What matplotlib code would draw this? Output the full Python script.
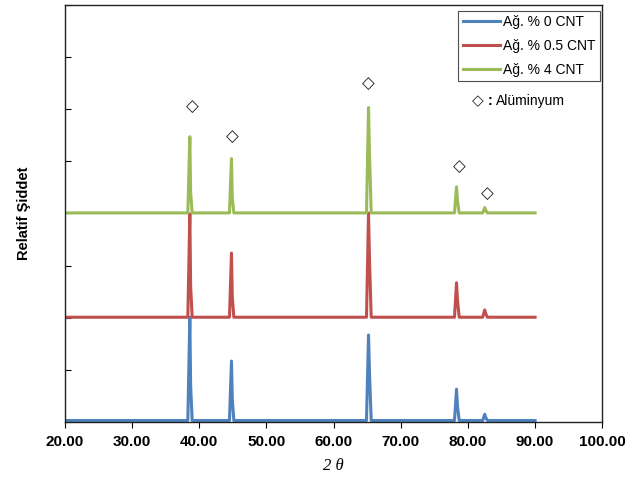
import matplotlib.pyplot as plt

plt.rcParams['font.family'] = ['Liberation Sans', 'DejaVu Sans']

# 2-theta points shared by the three patterns (peak base / top / shoulder / base)
two_theta = [20, 38.3, 38.6, 38.72, 38.95, 44.5, 44.8, 44.92, 45.15,
             64.9, 65.2, 65.35, 65.6, 78.0, 78.3, 78.45, 78.7,
             82.2, 82.5, 82.65, 82.9, 90]

cnt_0 = [0.03, 0.03, 2.01, 0.70, 0.03, 0.03, 1.17, 0.45, 0.03,
         0.03, 1.67, 0.93, 0.03, 0.03, 0.63, 0.30, 0.03,
         0.03, 0.15, 0.09, 0.03, 0.03]
cnt_05 = [2.01, 2.01, 3.99, 2.60, 2.01, 2.01, 3.24, 2.40, 2.01,
          2.01, 4.01, 3.10, 2.01, 2.01, 2.67, 2.33, 2.01,
          2.01, 2.15, 2.08, 2.01, 2.01]
cnt_4 = [4.01, 4.01, 5.47, 4.40, 4.01, 4.01, 5.05, 4.30, 4.01,
         4.01, 6.03, 5.12, 4.01, 4.01, 4.51, 4.24, 4.01,
         4.01, 4.11, 4.06, 4.01, 4.01]

series = [('Ağ. % 0 CNT', cnt_0, '#4F81BD'),
          ('Ağ. % 0.5 CNT', cnt_05, '#C0504D'),
          ('Ağ. % 4 CNT', cnt_4, '#9BBB59')]

# aluminium peak marks
mark_x = [38.95, 44.9, 65.2, 78.7, 82.9]
mark_y = [6.05, 5.47, 6.49, 4.89, 4.38]

fig = plt.figure(figsize=(6.3, 4.78), dpi=100)
ax = fig.add_axes([0.103, 0.117, 0.853, 0.873])

for label, vals, col in series:
    ax.plot(two_theta, vals, color=col, linewidth=2.2, label=label)

for mx, my in zip(mark_x, mark_y):
    ax.text(mx, my, '◇', ha='center', va='center', fontsize=12,
            color='#222222', family=['DejaVu Sans'])

ax.text(0.768, 0.77, '◇', transform=ax.transAxes, ha='center', va='center',
        fontsize=11, color='#222222', family=['DejaVu Sans'])
ax.text(0.786, 0.77, ':', transform=ax.transAxes, ha='left',
        va='center', fontsize=10, fontweight='bold')
ax.text(0.803, 0.77, 'Alüminyum', transform=ax.transAxes, ha='left',
        va='center', fontsize=10)

ax.set_xlim(20, 100)
ax.set_ylim(0, 8)
ax.set_xticks(range(20, 101, 10))
ax.set_xticklabels([f'{v:.2f}' for v in range(20, 101, 10)],
                   fontsize=11, fontweight='bold')
ax.set_yticks(range(0, 9))
ax.set_yticklabels([])
ax.tick_params(axis='x', direction='out', length=4, width=0.8, pad=5)
ax.tick_params(axis='y', direction='in', length=4, width=0.8)

for s in ax.spines.values():
    s.set_linewidth(1)
    s.set_color('#222222')

ax.set_xlabel('2 θ', fontsize=12, fontstyle='italic',
              family=['Liberation Serif', 'DejaVu Serif'], labelpad=7)
ax.set_ylabel('Relatif Şiddet', fontsize=10.5, fontweight='bold', labelpad=21)

leg = ax.legend(loc='upper right', bbox_to_anchor=(0.995, 0.985),
                fontsize=10, frameon=True, fancybox=False, handlelength=2.7,
                handletextpad=0.2, borderaxespad=0, labelspacing=0.7,
                borderpad=0.3)
leg.get_frame().set_edgecolor('#222222')
leg.get_frame().set_linewidth(0.8)

plt.savefig('out.png', dpi=100)
